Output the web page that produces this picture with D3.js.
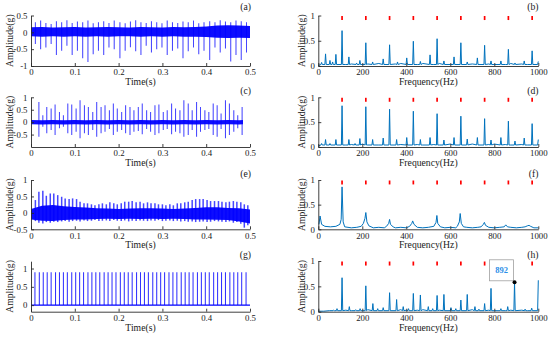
<!DOCTYPE html>
<html><head><meta charset="utf-8">
<script src="https://cdn.jsdelivr.net/npm/d3@7"></script>
<style>
body{margin:0;background:#fff}
svg{display:block}
text{font-family:"Liberation Serif","Times New Roman",serif;fill:#1a1a1a}
</style>
</head><body>
<svg id="chart" width="550" height="337"></svg>
<script>
// ---------------- DATA ----------------
const timeTicks = [0, 0.1, 0.2, 0.3, 0.4, 0.5];
const freqTicks = [0, 200, 400, 600, 800, 1000];
const ampTicksA = [-1, -0.5, 0, 0.5];
const ampTicksC = [-0.5, 0, 0.5, 1];
const ampTicksE = [-0.5, 0, 0.5, 1];
const ampTicksG = [0, 0.5, 1];
const ampTicksSpec = [0, 0.5, 1];
const panelLetters = ["(a)", "(b)", "(c)", "(d)", "(e)", "(f)", "(g)", "(h)"];
const timeLabel = "Time(s)";
const freqLabel = "Frequency(Hz)";
const ampLabel = "Amplitude(g)";

// red fault-frequency markers
const harmonicFreqs = [108, 216, 324, 432, 540, 648, 756, 864, 972];
const markerLow = 0.91, markerHigh = 0.99;

// (a) raw signal: impulses + noise band
const aSpikeT = [0.010,0.022,0.034,0.046,0.058,0.070,0.082,0.094,0.106,0.118,
  0.130,0.142,0.154,0.166,0.178,0.190,0.203,0.215,0.227,0.239,
  0.251,0.263,0.275,0.287,0.299,0.311,0.323,0.335,0.347,0.359,
  0.371,0.383,0.395,0.408,0.420,0.432,0.444,0.456,0.468,0.480,0.492];
const aSpikeNeg = [-0.35,-0.5,-0.45,-0.35,-0.67,-0.55,-0.4,-0.67,-0.55,-0.77,
  -0.88,-0.65,-0.55,-0.67,-0.45,-0.5,-0.77,-0.55,-0.44,-0.56,
  -0.67,-0.4,-0.6,-0.5,-0.45,-0.67,-0.55,-0.48,-0.77,-0.56,
  -0.45,-0.65,-0.55,-0.82,-0.45,-0.6,-0.48,-0.87,-0.67,-0.82,-0.6];
const aSpikePos = [0.3,0.35,0.28,0.25,0.33,0.3,0.36,0.28,0.32,0.3,
  0.35,0.27,0.3,0.33,0.28,0.35,0.3,0.27,0.32,0.36,
  0.3,0.28,0.33,0.3,0.27,0.35,0.3,0.28,0.32,0.3,
  0.35,0.27,0.3,0.33,0.3,0.36,0.32,0.3,0.35,0.33,0.3];
const bandT = [0,0.025,0.05,0.075,0.1,0.125,0.15,0.175,0.2,0.225,0.25,0.275,0.3,0.325,0.35,0.375,0.4,0.425,0.45,0.475,0.5];
const aBandHi = [0.15,0.16,0.14,0.15,0.16,0.14,0.15,0.16,0.15,0.14,0.16,0.15,0.14,0.16,0.15,0.16,0.17,0.2,0.21,0.2,0.19];
const aBandLo = [-0.12,-0.13,-0.12,-0.13,-0.12,-0.13,-0.12,-0.13,-0.12,-0.12,-0.13,-0.12,-0.13,-0.12,-0.13,-0.13,-0.14,-0.16,-0.17,-0.16,-0.17];

// (c)
const cSpikeT = [0.018,0.027,0.036,0.046,0.055,0.065,0.074,0.084,0.093,0.103,
  0.112,0.122,0.131,0.141,0.150,0.160,0.169,0.179,0.188,0.197,
  0.207,0.216,0.226,0.235,0.245,0.254,0.264,0.273,0.283,0.292,
  0.302,0.311,0.321,0.330,0.340,0.349,0.359,0.368,0.378,0.387,
  0.397,0.406,0.416,0.425,0.434,0.444,0.453,0.463,0.472,0.482];
const cSpikePos = [0.81,0.28,0.61,0.55,0.71,0.41,0.28,0.75,0.71,0.55,
  0.88,0.68,0.61,0.41,0.81,0.61,0.68,0.48,0.75,0.55,
  0.41,0.68,0.61,0.48,0.61,0.75,0.48,0.41,0.68,0.71,
  0.41,0.48,0.75,0.55,0.48,0.88,0.75,0.48,0.81,0.61,
  0.48,0.41,0.75,0.68,0.35,0.88,0.75,0.48,0.28,0.61];
const cSpikeNeg = [-0.59,-0.19,-0.45,-0.32,-0.52,-0.25,-0.19,-0.45,-0.52,-0.39,
  -0.65,-0.45,-0.52,-0.32,-0.59,-0.45,-0.39,-0.28,-0.52,-0.39,
  -0.32,-0.45,-0.52,-0.39,-0.36,-0.49,-0.28,-0.39,-0.52,-0.45,
  -0.32,-0.28,-0.49,-0.39,-0.45,-0.59,-0.52,-0.32,-0.59,-0.39,
  -0.32,-0.28,-0.52,-0.59,-0.28,-0.65,-0.52,-0.39,-0.25,-0.52];
const cBandT = [0,0.025,0.05,0.075,0.1,0.125,0.15,0.175,0.2,0.225,0.25,0.275,0.3,0.325,0.35,0.375,0.4,0.425,0.45,0.475,0.484];
const cBandHi = [0.09,0.08,0.09,0.08,0.09,0.08,0.09,0.08,0.09,0.08,0.09,0.08,0.09,0.08,0.09,0.08,0.09,0.08,0.09,0.08,0.09];
const cBandLo = [-0.08,-0.09,-0.08,-0.09,-0.08,-0.09,-0.08,-0.09,-0.08,-0.09,-0.08,-0.09,-0.08,-0.09,-0.08,-0.09,-0.08,-0.09,-0.08,-0.09,-0.08];

// (e)
const eSpikeT = [0.010,0.018,0.027,0.035,0.044,0.052,0.061,0.070,0.078,0.087,
  0.095,0.104,0.112,0.121,0.129,0.138,0.146,0.155,0.163,0.172,
  0.180,0.189,0.197,0.206,0.214,0.223,0.231,0.240,0.249,0.257,
  0.266,0.274,0.283,0.291,0.300,0.308,0.317,0.325,0.334,0.342,
  0.351,0.359,0.368,0.376,0.385,0.393,0.402,0.410,0.419,0.428,
  0.436,0.445,0.453,0.462,0.470,0.479,0.487,0.495];
const eSpikePos = [0.39,0.64,0.67,0.52,0.59,0.59,0.54,0.49,0.44,0.42,
  0.44,0.42,0.34,0.29,0.29,0.26,0.23,0.26,0.29,0.26,
  0.32,0.29,0.26,0.29,0.34,0.34,0.36,0.32,0.34,0.29,
  0.32,0.29,0.29,0.26,0.26,0.23,0.26,0.23,0.29,0.29,
  0.32,0.34,0.39,0.42,0.42,0.42,0.39,0.36,0.36,0.36,
  0.34,0.32,0.34,0.36,0.34,0.32,0.26,0.23];
const eSpikeNeg = [-0.25,-0.3,-0.32,-0.28,-0.3,-0.27,-0.28,-0.26,-0.25,-0.27,
  -0.25,-0.24,-0.26,-0.23,-0.25,-0.24,-0.22,-0.25,-0.24,-0.23,
  -0.25,-0.22,-0.24,-0.25,-0.23,-0.26,-0.24,-0.25,-0.23,-0.24,
  -0.25,-0.23,-0.24,-0.22,-0.25,-0.24,-0.23,-0.25,-0.24,-0.26,
  -0.25,-0.27,-0.26,-0.28,-0.27,-0.26,-0.28,-0.27,-0.25,-0.26,
  -0.27,-0.28,-0.26,-0.3,-0.28,-0.33,-0.45,-0.38];
const eBandHi = [0.12,0.22,0.24,0.2,0.18,0.16,0.14,0.13,0.12,0.13,0.14,0.14,0.13,0.12,0.13,0.15,0.17,0.17,0.15,0.14,0.1];
const eBandLo = [-0.2,-0.24,-0.25,-0.22,-0.2,-0.2,-0.19,-0.18,-0.19,-0.18,-0.19,-0.18,-0.19,-0.18,-0.19,-0.2,-0.2,-0.21,-0.22,-0.26,-0.32];

// (g) ideal impulse train
const gSpikeT = [0.009,0.019,0.028,0.037,0.046,0.056,0.065,0.074,0.083,0.093,
  0.102,0.111,0.120,0.130,0.139,0.148,0.157,0.167,0.176,0.185,
  0.194,0.204,0.213,0.222,0.231,0.241,0.250,0.259,0.268,0.278,
  0.287,0.296,0.305,0.315,0.324,0.333,0.343,0.352,0.361,0.370,
  0.380,0.389,0.398,0.407,0.417,0.426,0.435,0.444,0.454,0.463,
  0.472,0.481,0.491];
const gImpulseAmp = 0.9;
const gBaseT = [0, 0.5];

// spectra: noise floor grid + peaks
const floorFreqs = [0,25,50,75,100,125,150,175,200,225,250,275,300,325,350,375,400,425,450,475,
  500,525,550,575,600,625,650,675,700,725,750,775,800,825,850,875,900,925,950,975,1000];
const bFloor = [0.01,0.03,0.04,0.03,0.05,0.03,0.04,0.05,0.03,0.04,
  0.03,0.05,0.04,0.03,0.04,0.05,0.03,0.04,0.03,0.05,
  0.04,0.03,0.05,0.04,0.03,0.04,0.05,0.03,0.04,0.03,
  0.05,0.04,0.03,0.04,0.03,0.05,0.03,0.04,0.03,0.04,0.05];
const bPeakF = [15,33,53,65,80,108,139,174,189,216,247,295,324,360,402,432,464,508,540,571,617,648,677,723,756,785,830,864,894,936,972,1000];
const bPeakA = [0.07,0.24,0.11,0.08,0.23,0.70,0.18,0.06,0.11,0.46,0.08,0.14,0.42,0.08,0.16,0.49,0.09,0.22,0.54,0.10,0.18,0.46,0.08,0.16,0.41,0.10,0.10,0.33,0.06,0.10,0.30,0.09];

const dFloor = [0.02,0.04,0.05,0.04,0.06,0.04,0.05,0.04,0.06,0.04,
  0.05,0.04,0.06,0.05,0.04,0.05,0.06,0.04,0.05,0.04,
  0.06,0.05,0.04,0.05,0.06,0.04,0.05,0.04,0.06,0.05,
  0.04,0.05,0.06,0.04,0.05,0.04,0.06,0.05,0.04,0.05,0.04];
const dPeakF = [15,33,53,80,108,139,167,189,216,247,295,324,356,402,432,464,508,540,571,617,648,677,723,756,785,830,864,894,936,972,1000];
const dPeakA = [0.07,0.15,0.07,0.15,0.83,0.15,0.07,0.17,0.81,0.15,0.18,0.76,0.15,0.19,0.72,0.15,0.19,0.67,0.14,0.19,0.62,0.16,0.19,0.57,0.14,0.19,0.52,0.12,0.18,0.47,0.15];

const fFloor = [0.05,0.04,0.05,0.04,0.05,0.04,0.03,0.04,0.03,0.04,
  0.03,0.04,0.03,0.04,0.03,0.04,0.03,0.03,0.04,0.03,
  0.04,0.03,0.04,0.03,0.04,0.03,0.03,0.04,0.03,0.04,
  0.03,0.04,0.03,0.04,0.03,0.04,0.03,0.04,0.04,0.03,0.03];
const fPeakF = [3,8,15,30,55,80,98,104,108,113,120,195,205,212,216,221,230,310,320,324,328,340,415,425,429,435,450,525,535,539,543,555,632,641,645,650,660,740,750,755,760,775,845,852,860,940,950,958,965,980];
const fPeakA = [0.1,0.27,0.1,0.06,0.05,0.06,0.1,0.2,0.86,0.15,0.05,0.06,0.12,0.22,0.34,0.15,0.07,0.06,0.12,0.2,0.1,0.05,0.06,0.12,0.17,0.1,0.04,0.06,0.14,0.28,0.12,0.05,0.06,0.15,0.32,0.12,0.05,0.05,0.1,0.14,0.08,0.04,0.05,0.09,0.05,0.05,0.07,0.08,0.06,0.03];

const hFloor = [0.01,0.01,0.02,0.01,0.02,0.03,0.02,0.03,0.02,0.04,
  0.03,0.02,0.04,0.03,0.02,0.04,0.03,0.05,0.03,0.04,
  0.03,0.05,0.03,0.04,0.03,0.05,0.04,0.03,0.04,0.03,
  0.04,0.03,0.02,0.03,0.02,0.03,0.02,0.03,0.02,0.02,0.02];
const hPeakF = [70,85,108,141,170,190,216,248,270,295,324,356,386,410,432,464,500,520,540,571,603,625,648,677,712,730,756,785,830,861,892,940,970,1000];
const hPeakA = [0.03,0.06,0.67,0.10,0.04,0.06,0.51,0.16,0.06,0.08,0.375,0.24,0.10,0.06,0.36,0.33,0.10,0.06,0.32,0.34,0.08,0.06,0.23,0.34,0.10,0.05,0.16,0.46,0.06,0.10,0.58,0.05,0.07,0.62];

// data tip in (h)
const tipFreq = 892, tipAmp = 0.58, tipText = "892";

// ---------------- LAYOUT ----------------
const svg = d3.select("#chart");
const BLUE = "#0000ff", SPEC = "#0072BD", AXIS = "#2a2a2a";
const cols = [{x0: 31, x1: 250, ylabX: 12.5, letterX: 251},
              {x0: 318.3, x1: 538.3, ylabX: 305.3, letterX: 538.5}];
const rows = [{top: 15.5, bottom: 66, letterY: 10},
              {top: 97.3, bottom: 147, letterY: 94},
              {top: 180, bottom: 229.3, letterY: 177},
              {top: 261.2, bottom: 311.7, letterY: 258}];
const timeDomains = [[-1, 0.5], [-1, 1], [-0.5, 1], [-0.18, 1.2]];
const timeYTicks = [ampTicksA, ampTicksC, ampTicksE, ampTicksG];

function drawAxes(g, x, y, xt, yt, xlabel, col, row) {
  const xa = g.append("g").attr("transform", `translate(0,${row.bottom})`)
    .call(d3.axisBottom(x).tickValues(xt).tickSize(-3).tickSizeOuter(0).tickPadding(3).tickFormat(d => String(d)));
  const ya = g.append("g").attr("transform", `translate(${col.x0},0)`)
    .call(d3.axisLeft(y).tickValues(yt).tickSize(-3).tickSizeOuter(0).tickPadding(3.5).tickFormat(d => String(d)));
  [xa, ya].forEach(a => {
    a.selectAll("path,line").attr("stroke", AXIS).attr("stroke-width", 0.9);
    a.selectAll("text").attr("font-size", 8.8).attr("font-family", "Liberation Serif").attr("fill", "#1a1a1a");
  });
  g.append("text").attr("x", (col.x0 + col.x1) / 2).attr("y", row.bottom + 18.8)
    .attr("text-anchor", "middle").attr("font-size", 9.7).text(xlabel);
  g.append("text").attr("transform", `translate(${col.ylabX},${(row.top + row.bottom) / 2}) rotate(-90)`)
    .attr("text-anchor", "middle").attr("font-size", 9.7).text(ampLabel);
}

function drawTime(r, spikeT, pos, neg, bT, bHi, bLo) {
  const col = cols[0], row = rows[r];
  const g = svg.append("g");
  const x = d3.scaleLinear().domain([0, 0.5]).range([col.x0, col.x1]);
  const y = d3.scaleLinear().domain(timeDomains[r]).range([row.bottom, row.top]);
  if (bT) {
    const band = bT.map((t, i) => ({t, hi: bHi[i], lo: bLo[i]}));
    g.append("path").datum(band).attr("fill", BLUE).attr("opacity", 0.95)
      .attr("d", d3.area().x(d => x(d.t)).y0(d => y(d.lo)).y1(d => y(d.hi)));
  }
  g.selectAll("line.sp").data(spikeT).join("line").attr("class", "sp")
    .attr("x1", d => x(d)).attr("x2", d => x(d))
    .attr("y1", (d, i) => y(Array.isArray(neg) ? neg[i] : neg))
    .attr("y2", (d, i) => y(Array.isArray(pos) ? pos[i] : pos))
    .attr("stroke", BLUE).attr("stroke-width", r === 2 ? 1.5 : 1.05).attr("opacity", r === 3 ? 0.8 : 0.72);
  if (r === 3) {
    g.append("path").datum(gBaseT).attr("fill", "none").attr("stroke", BLUE).attr("stroke-width", 1.1)
      .attr("d", d3.line().x(d => x(d)).y(() => y(0)));
  }
  drawAxes(g, x, y, timeTicks, timeYTicks[r], timeLabel, col, row);
  g.append("text").attr("x", col.letterX).attr("y", row.letterY).attr("text-anchor", "end")
    .attr("font-size", 9.7).text(panelLetters[r * 2]);
  return {x, y, g};
}

function spectrumPoints(peakF, peakA, floorA, hw, base) {
  const pts = [];
  floorFreqs.forEach((f, i) => {
    if (!peakF.some(p => Math.abs(p - f) < hw + 6)) pts.push([f, floorA[i]]);
  });
  peakF.forEach((f, i) => {
    pts.push([f, peakA[i]]);
    if (hw > 0) {
      if (f - hw >= 0) pts.push([f - hw, base]);
      if (f + hw <= 1000) pts.push([f + hw, base]);
    }
  });
  pts.sort((a, b) => a[0] - b[0]);
  return pts;
}

function drawSpec(r, peakF, peakA, floorA, hw, base) {
  const col = cols[1], row = rows[r];
  const g = svg.append("g");
  const x = d3.scaleLinear().domain([0, 1000]).range([col.x0, col.x1]);
  const y = d3.scaleLinear().domain([0, 1]).range([row.bottom, r === 3 ? 261 : row.top]);
  const pts = spectrumPoints(peakF, peakA, floorA, hw, base);
  g.append("path").datum(pts).attr("fill", "none").attr("stroke", SPEC).attr("stroke-width", 1)
    .attr("stroke-linejoin", "round")
    .attr("d", d3.line().x(d => x(d[0])).y(d => y(d[1])));
  g.selectAll("line.mk").data(harmonicFreqs).join("line").attr("class", "mk")
    .attr("x1", d => x(d)).attr("x2", d => x(d))
    .attr("y1", y(markerLow)).attr("y2", y(markerHigh))
    .attr("stroke", "#ff0000").attr("stroke-width", 1.7);
  drawAxes(g, x, y, freqTicks, ampTicksSpec, freqLabel, col, row);
  g.append("text").attr("x", col.letterX).attr("y", row.letterY).attr("text-anchor", "end")
    .attr("font-size", 9.7).text(panelLetters[r * 2 + 1]);
  return {x, y, g};
}

drawTime(0, aSpikeT, aSpikePos, aSpikeNeg, bandT, aBandHi, aBandLo);
drawSpec(0, bPeakF, bPeakA, bFloor, 3, 0.03);
drawTime(1, cSpikeT, cSpikePos, cSpikeNeg, cBandT, cBandHi, cBandLo);
drawSpec(1, dPeakF, dPeakA, dFloor, 3, 0.04);
drawTime(2, eSpikeT, eSpikePos, eSpikeNeg, bandT, eBandHi, eBandLo);
drawSpec(2, fPeakF, fPeakA, fFloor, 0, 0.03);
drawTime(3, gSpikeT, gImpulseAmp, 0, null, null, null);
const H = drawSpec(3, hPeakF, hPeakA, hFloor, 3, 0.02);

// data tip
const px = H.x(tipFreq), py = H.y(tipAmp);
H.g.append("rect").attr("x", px - 25).attr("y", py - 22.5).attr("width", 24).attr("height", 21)
  .attr("fill", "#fff").attr("stroke", "#a0a0a0").attr("stroke-width", 0.8);
H.g.append("text").attr("x", px - 13).attr("y", py - 9).attr("text-anchor", "middle")
  .attr("font-size", 8.5).attr("font-weight", "bold").style("fill", "#2c8fe8").text(tipText);
H.g.append("circle").attr("cx", px).attr("cy", py).attr("r", 2).attr("fill", "#000");
</script>
</body></html>
